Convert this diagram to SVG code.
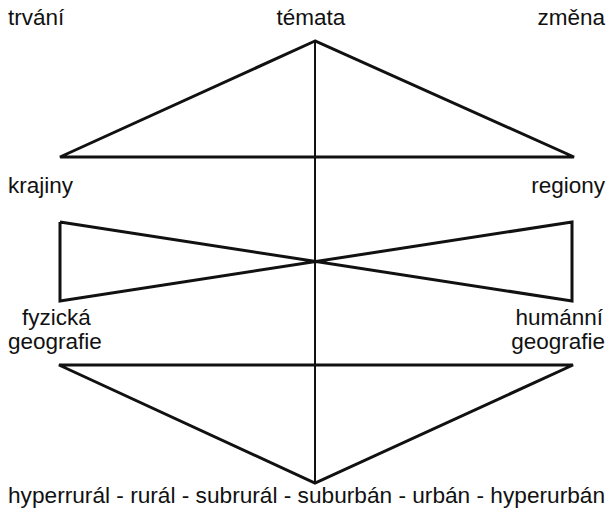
<svg xmlns="http://www.w3.org/2000/svg" width="614" height="515" viewBox="0 0 614 515">
<style>
.l{stroke:#111;stroke-width:3;fill:none;stroke-linejoin:miter;stroke-linecap:butt}
.v{stroke:#111;stroke-width:2;fill:none}
text{font-family:"Liberation Sans",Arial,sans-serif;font-size:22.5px;fill:#111}
</style>
<rect width="614" height="515" fill="#fff"/>
<g id="connectors">
<line class="v" x1="315" y1="41" x2="315" y2="483"/>
<polygon id="top-triangle" class="l" points="315,41 60,157 574,157"/>
<polyline id="bowtie" class="l" points="60,222 572,301 572,222 60,301 60,222"/>
<polygon id="bottom-triangle" class="l" points="59,365 573,365 315,483"/>
</g>
<g id="n-temata"><text x="311" y="25" text-anchor="middle">témata</text></g>
<g id="n-trvani"><text x="8" y="25">trvání</text></g>
<g id="n-zmena"><text x="605" y="25" text-anchor="end">změna</text></g>
<g id="n-krajiny"><text x="8" y="193">krajiny</text></g>
<g id="n-regiony"><text x="605" y="193" text-anchor="end">regiony</text></g>
<g id="n-fyzicka"><text x="22" y="325">fyzická</text><text x="8" y="349">geografie</text></g>
<g id="n-humanni"><text x="603" y="325" text-anchor="end">humánní</text><text x="605" y="349" text-anchor="end">geografie</text></g>
<g id="n-bottom"><text x="8" y="503" textLength="597" lengthAdjust="spacingAndGlyphs">hyperrurál - rurál - subrurál - suburbán - urbán - hyperurbán</text></g>
</svg>
